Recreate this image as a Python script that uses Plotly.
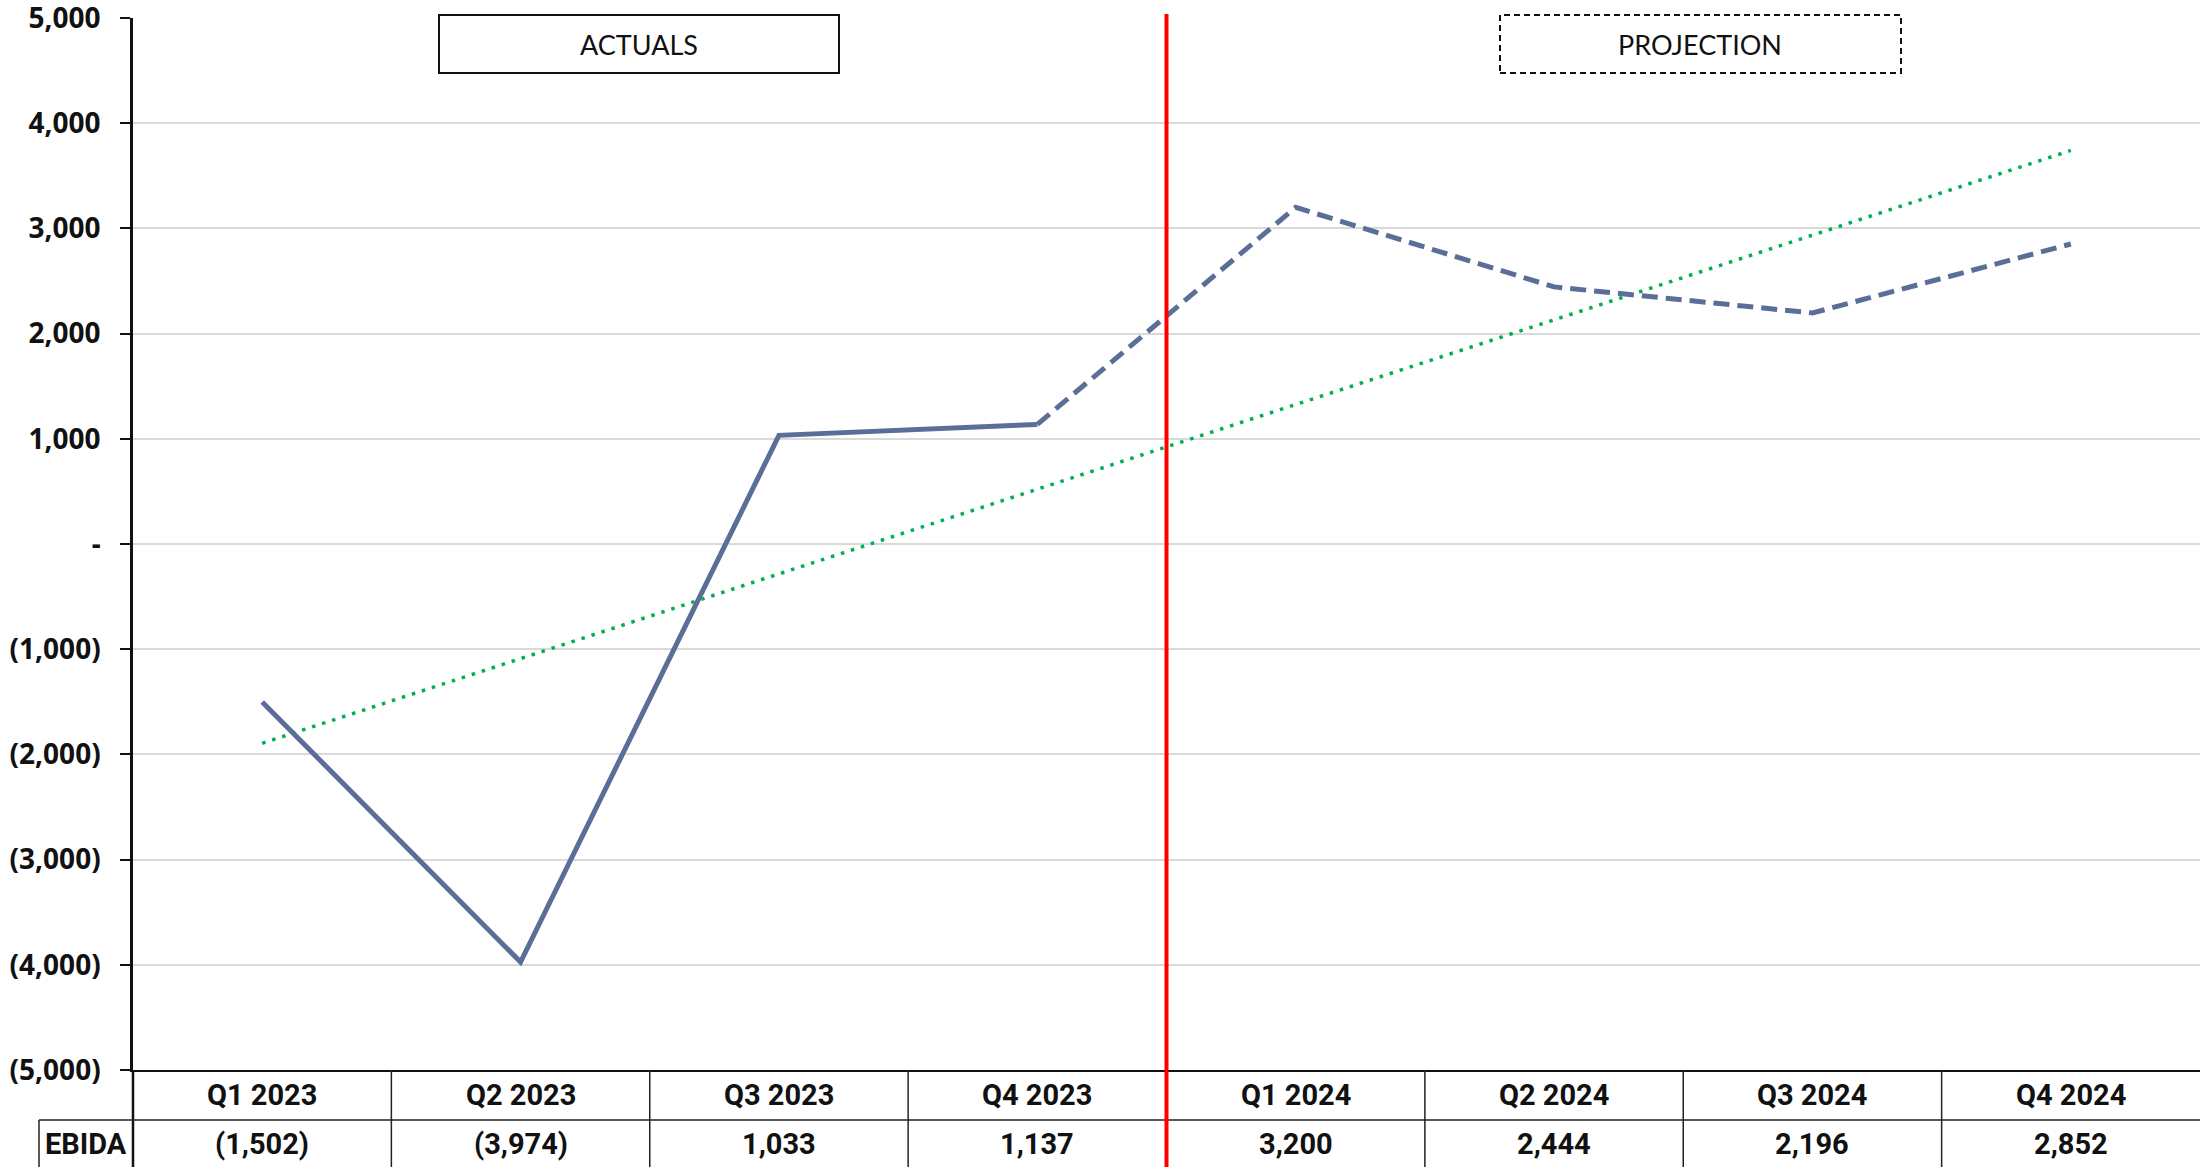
import numpy as np
import plotly.graph_objects as go

# ---- data ----
categories = ["Q1 2023", "Q2 2023", "Q3 2023", "Q4 2023",
              "Q1 2024", "Q2 2024", "Q3 2024", "Q4 2024"]
ebida = [-1502, -3974, 1033, 1137, 3200, 2444, 2196, 2852]
n_actual = 4  # first four quarters are actuals
row_label = "EBIDA"
y_ticks = [5000, 4000, 3000, 2000, 1000, 0, -1000, -2000, -3000, -4000, -5000]


def acct(v):
    if v == 0:
        return "-"
    s = f"{abs(v):,.0f}"
    return f"({s})" if v < 0 else s


# linear trendline through all quarters
idx = np.arange(len(ebida))
slope, intercept = np.polyfit(idx, ebida, 1)
trend = [slope * i + intercept for i in idx]

W, H = 2200, 1167
ML, MR, MT, MB = 133, 0, 18, 97
PW, PH = W - ML - MR, H - MT - MB

LINE_COLOR = "#5A6E97"
GREEN = "#00B050"

fig = go.Figure()
fig.add_trace(go.Scatter(x=categories, y=trend, mode="lines",
                         line=dict(color=GREEN, width=3.5, dash="3.5px,7px"),
                         hoverinfo="skip", cliponaxis=False))
fig.add_trace(go.Scatter(x=categories[:n_actual], y=ebida[:n_actual], mode="lines",
                         line=dict(color=LINE_COLOR, width=5)))
fig.add_trace(go.Scatter(x=categories[n_actual - 1:], y=ebida[n_actual - 1:], mode="lines",
                         line=dict(color=LINE_COLOR, width=5, dash="16px,8px")))

def px_x(px):
    return (px - ML) / PW

def px_y(py):
    return (H - MB - py) / PH

shapes = []
ncat = len(categories)
bottom = px_y(H)
row_split = px_y(1120)
tbl_line = dict(color="#222222", width=1.5)
# y-axis continuation through the table
shapes.append(dict(type="line", xref="paper", yref="paper", x0=0, x1=0,
                   y0=bottom, y1=0, line=dict(color="#111111", width=2.5)))
# column separators
for k in range(1, ncat):
    shapes.append(dict(type="line", xref="paper", yref="paper", x0=k / ncat, x1=k / ncat,
                       y0=bottom, y1=0, line=tbl_line))
# row separator and EBIDA cell border
shapes.append(dict(type="line", xref="paper", yref="paper", x0=px_x(39), x1=1,
                   y0=row_split, y1=row_split, line=tbl_line))
shapes.append(dict(type="line", xref="paper", yref="paper", x0=px_x(39), x1=px_x(39),
                   y0=bottom, y1=row_split, line=tbl_line))
# red divider between actuals and projection
shapes.append(dict(type="line", xref="paper", yref="paper", x0=n_actual / ncat, x1=n_actual / ncat,
                   y0=bottom, y1=px_y(14), line=dict(color="#FF0000", width=4)))
# label boxes
shapes.append(dict(type="rect", xref="paper", yref="paper", x0=px_x(439), x1=px_x(839),
                   y0=px_y(73), y1=px_y(15), line=dict(color="#111111", width=2),
                   fillcolor="white"))
shapes.append(dict(type="rect", xref="paper", yref="paper", x0=px_x(1500), x1=px_x(1901),
                   y0=px_y(73), y1=px_y(15), line=dict(color="#111111", width=2, dash="6px,4px"),
                   fillcolor="white"))

annotations = []
tbl_font = dict(family="Roboto", size=29, color="#111111", weight="bold")
for c, v in zip(categories, ebida):
    annotations.append(dict(x=c, xref="x", y=px_y(1095), yref="paper", text=c,
                            showarrow=False, font=tbl_font, xanchor="center", yanchor="middle"))
    annotations.append(dict(x=c, xref="x", y=px_y(1144), yref="paper", text=acct(v),
                            showarrow=False, font=tbl_font, xanchor="center", yanchor="middle"))
annotations.append(dict(x=px_x(86), xref="paper", y=px_y(1144), yref="paper", text=row_label,
                        showarrow=False, font=tbl_font, xanchor="center", yanchor="middle"))
box_font = dict(family="Lato", size=27, color="#111111")
annotations.append(dict(x=px_x(639), xref="paper", y=px_y(44), yref="paper", text="ACTUALS",
                        showarrow=False, font=box_font, xanchor="center", yanchor="middle"))
annotations.append(dict(x=px_x(1700), xref="paper", y=px_y(44), yref="paper", text="PROJECTION",
                        showarrow=False, font=box_font, xanchor="center", yanchor="middle"))

fig.update_layout(
    width=W, height=H,
    margin=dict(l=ML, r=MR, t=MT, b=MB, autoexpand=False),
    plot_bgcolor="white", paper_bgcolor="white",
    showlegend=False,
    shapes=shapes, annotations=annotations,
    xaxis=dict(type="category", categoryorder="array", categoryarray=categories,
               range=[-0.5, ncat - 0.5], showgrid=False, showticklabels=False,
               ticks="", showline=True, linecolor="#111111", linewidth=2, zeroline=False,
               automargin=False),
    yaxis=dict(range=[-5000, 5000], tickvals=y_ticks, ticktext=[acct(v) for v in y_ticks],
               showgrid=True, gridcolor="#D9D9D9", gridwidth=2, zeroline=False,
               showline=True, linecolor="#111111", linewidth=2.5,
               ticks="outside", ticklen=10, tickwidth=2, tickcolor="#111111",
               ticklabelstandoff=14, automargin=False, ticklabeloverflow="allow",
               tickfont=dict(family="Noto Sans", size=28, color="#111111", weight="bold")),
)

fig.write_html("out.html", config={"displayModeBar": False},
               post_script="document.body.style.margin='0';document.body.style.overflow='hidden';")
